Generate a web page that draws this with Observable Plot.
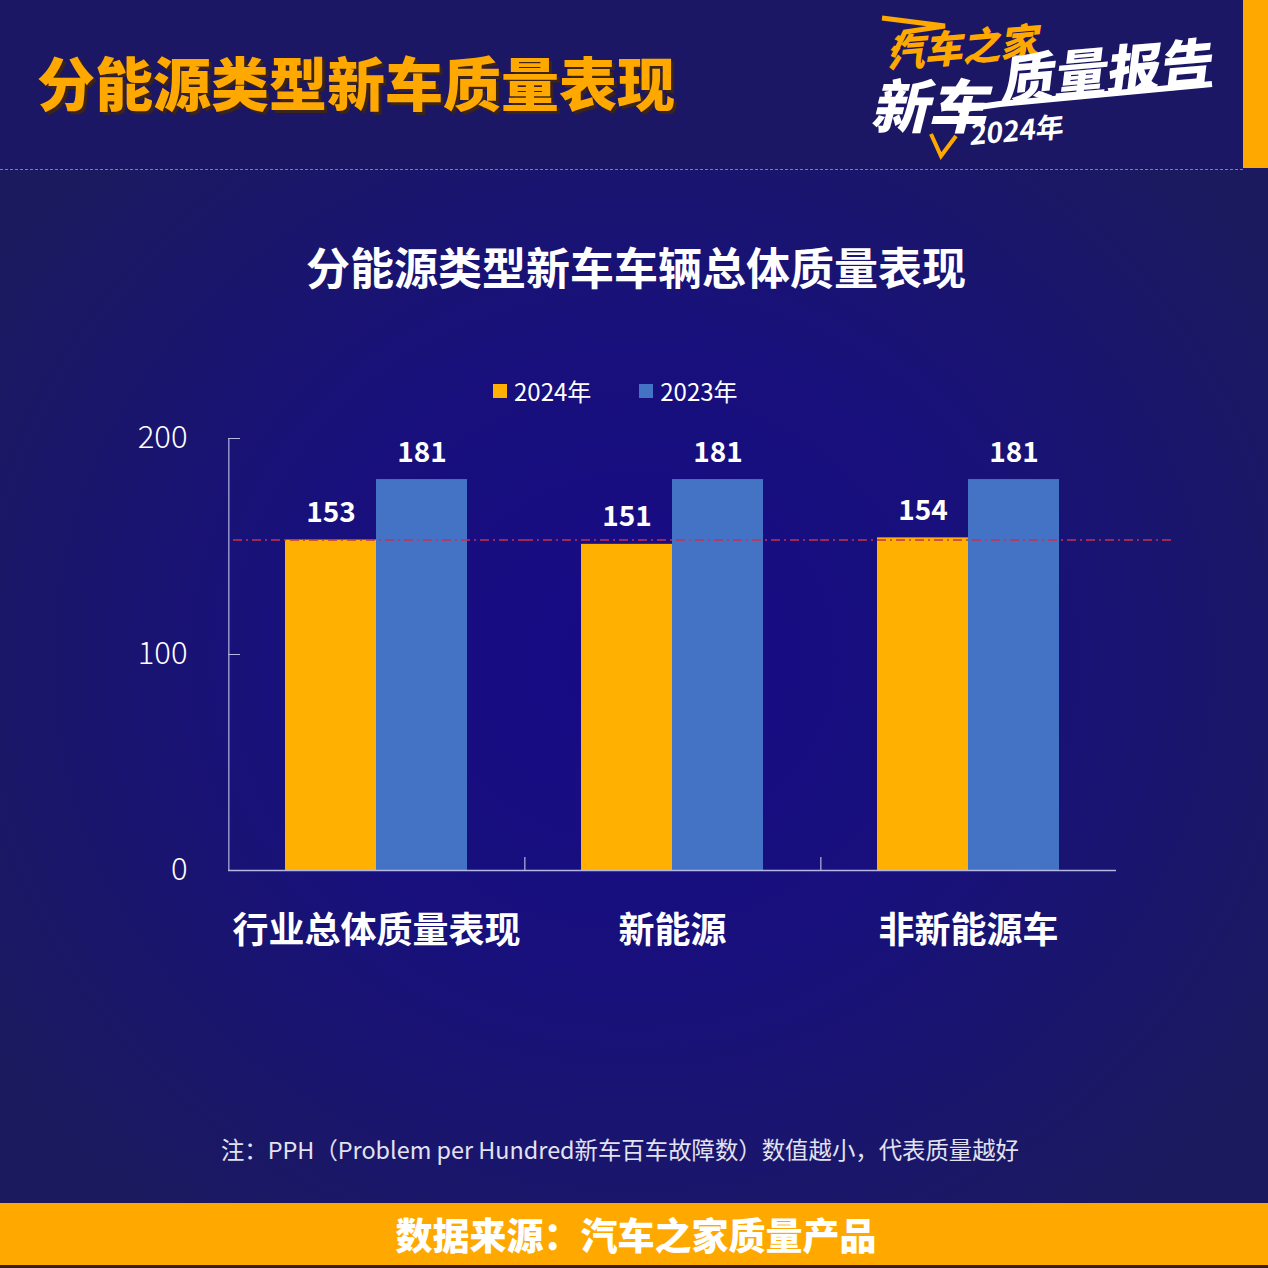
<!DOCTYPE html>
<html>
<head>
<meta charset="utf-8">
<script src="https://cdn.jsdelivr.net/npm/d3@7"></script>
<script src="https://cdn.jsdelivr.net/npm/@observablehq/plot@0.6"></script>
<style>
  html, body { margin: 0; padding: 0; background: #1a1660; }
  #page {
    position: relative; width: 1268px; height: 1268px; overflow: hidden;
    font-family: "Noto Sans CJK SC", "Noto Sans", sans-serif;
    background: radial-gradient(ellipse 60% 55% at 50% 52%, #170a86 0%, #18107c 45%, #1b1a5f 100%);
  }
  #header { position: absolute; left: 0; top: 0; width: 1268px; height: 169px; background: #1b1764; }
  #title { position: absolute; left: 37px; top: 52px; font-size: 58px; line-height: 58px; font-weight: 900;
           color: #ffa800; text-shadow: 3px 3px 0 #3c2418; white-space: nowrap; letter-spacing: 0px; }
  #dash { position: absolute; left: 0; top: 169px; width: 1243px; border-top: 1.5px dashed #7a7db6; }
  #sidebar { position: absolute; left: 1243px; top: 0; width: 25px; height: 168px; background: #ffa800; }
  #logo { position: absolute; left: 0; top: 0; }
  #subtitle { position: absolute; left: 0; width: 1268px; top: 243px; text-align: center; padding-left: 2px;
              font-size: 44px; line-height: 46px; font-weight: 700; color: #ffffff; white-space: nowrap; }
  #legend { position: absolute; left: 493px; top: 376px; display: flex; align-items: center; gap: 48px;
            font-size: 24px; line-height: 30px; color: #ffffff; }
  #legend .item { display: flex; align-items: center; gap: 7px; }
  #legend .sw { width: 14px; height: 14px; display: inline-block; }
  #chart { position: absolute; left: 0; top: 410px; }
  #note { position: absolute; left: 0; width: 1240px; top: 1134px; text-align: center; font-size: 23.4px; line-height: 30px;
          color: #e2e2f0; white-space: nowrap; }
  #footer { position: absolute; left: 0; top: 1203px; width: 1268px; height: 62px; background: #ffa800;
            border-bottom: 3px solid #3a2014; }
  #footer div { text-align: center; font-size: 37px; line-height: 62px; font-weight: 900; color: #ffffff; padding-left: 4px; }
</style>
</head>
<body>
<div id="page">
  <div id="header"></div>
  <div id="title">分能源类型新车质量表现</div>
  <svg id="logo" width="1268" height="170" xmlns="http://www.w3.org/2000/svg">
    <polyline points="882,18 945,26 905,32 893,57" fill="none" stroke="#ffa800" stroke-width="5" stroke-linejoin="miter"/>
    <text x="888" y="68" font-size="38" font-weight="900" fill="#ffa800"
          transform="rotate(-5 888 68) skewX(-14) translate(16,0)" style="font-family:'Noto Sans CJK SC'">汽车之家</text>
    <text x="874" y="128" font-size="58" font-weight="900" fill="#ffffff"
          transform="skewX(-14) translate(28,0)" style="font-family:'Noto Sans CJK SC'">新车</text>
    <text x="1002" y="100" font-size="53" font-weight="900" fill="#ffffff"
          transform="rotate(-5 1002 100) skewX(-12) translate(20,0)" style="font-family:'Noto Sans CJK SC'">质量报告</text>
    <polyline points="958,110 1000,104 1212,84" fill="none" stroke="#ffffff" stroke-width="6"/>
    <text x="970" y="145" font-size="28" font-weight="700" fill="#ffffff"
          transform="rotate(-5 970 145) skewX(-10) translate(25,0)" style="font-family:'Noto Sans CJK SC'">2024年</text>
    <polyline points="931,134 941,156 956,136" fill="none" stroke="#ffa800" stroke-width="4"/>
  </svg>
  <div id="dash"></div>
  <div id="sidebar"></div>
  <div id="subtitle">分能源类型新车车辆总体质量表现</div>
  <div id="legend"></div>
  <div id="chart"></div>
  <div id="note">注：PPH（Problem per Hundred新车百车故障数）数值越小，代表质量越好</div>
  <div id="footer"><div>数据来源：汽车之家质量产品</div></div>
</div>
<script>
// ---- data ----
const categories = ["行业总体质量表现", "新能源", "非新能源车"];
const years = ["2024年", "2023年"];
const values2024 = [153, 151, 154];
const values2023 = [181, 181, 181];
const yTicks = [0, 100, 200];
const referenceValue = values2024[0]; // industry overall 2024

const colors = ["#ffb000", "#4472c4"];

const data = categories.flatMap((c, i) => [
  {category: c, year: years[0], value: values2024[i]},
  {category: c, year: years[1], value: values2023[i]}
]);
const refData = categories.map(c => ({category: c, value: referenceValue}));

// legend
const legend = document.getElementById("legend");
years.forEach((y, i) => {
  const it = document.createElement("div");
  it.className = "item";
  it.innerHTML = `<span class="sw" style="background:${colors[i]}"></span><span>${y}</span>`;
  legend.appendChild(it);
});

// ---- layout ----
const W = 1268, H = 570, ML = 227, MR = 152, MT = 28, MB = 110, PO = 0.61;
const facetW = (W - ML - MR) / categories.length;
const step = facetW / (years.length + 2 * PO);
const edgeDx = -(PO + 0.5) * step; // from centre of first inner band to facet left edge
const axisColor = "#b4b6e6";
const font = "'Noto Sans CJK SC', 'Noto Sans', sans-serif";
const refStyle = {stroke: "#c8304c", strokeWidth: 1.3, strokeDasharray: "9,4,2,4"};

const chart = Plot.plot({
  width: W, height: H,
  marginLeft: ML, marginRight: MR, marginTop: MT, marginBottom: MB,
  style: {background: "transparent", color: "white", fontFamily: font, overflow: "visible"},
  fx: {domain: categories, padding: 0, label: null},
  x: {domain: years, paddingInner: 0, paddingOuter: PO, axis: null},
  y: {domain: [0, 200], axis: null},
  color: {domain: years, range: colors},
  marks: [
    Plot.barY(data, {fx: "category", x: "year", y: "value", fill: "year"}),
    Plot.ruleY([0], {stroke: axisColor, strokeWidth: 1.5}),
    Plot.ruleX([categories[0]], {fx: d => d, x: () => years[0], y1: 0, y2: 200, dx: edgeDx, stroke: axisColor, strokeWidth: 1.2}),
    Plot.ruleX(categories.slice(1), {fx: d => d, x: () => years[0], y1: 0, y2: 6, dx: edgeDx, stroke: axisColor, strokeWidth: 1.2}),
    Plot.ruleY(refData.slice(0, 1), {fx: "category", y: "value", insetLeft: 5, ...refStyle}),
    Plot.ruleY(refData.slice(1, 2), {fx: "category", y: "value", ...refStyle}),
    Plot.ruleY(refData.slice(2), {fx: "category", y: "value", insetRight: -57, ...refStyle}),
    Plot.text(data, {fx: "category", x: "year", y: "value", text: d => String(d.value), dy: -27,
      fill: "white", fontSize: 28, fontWeight: "bold", fontFamily: font}),
    Plot.axisY({ticks: yTicks, tickSize: -12, tickPadding: 53, fontSize: 31, fontWeight: 300,
      stroke: axisColor, fill: "white", label: null, fontFamily: font}),
    Plot.axisFx({anchor: "bottom", tickSize: 0, tickPadding: 47, fontSize: 36, fontWeight: "bold",
      fill: "white", label: null, fontFamily: font})
  ]
});
document.getElementById("chart").appendChild(chart);
</script>
</body>
</html>
